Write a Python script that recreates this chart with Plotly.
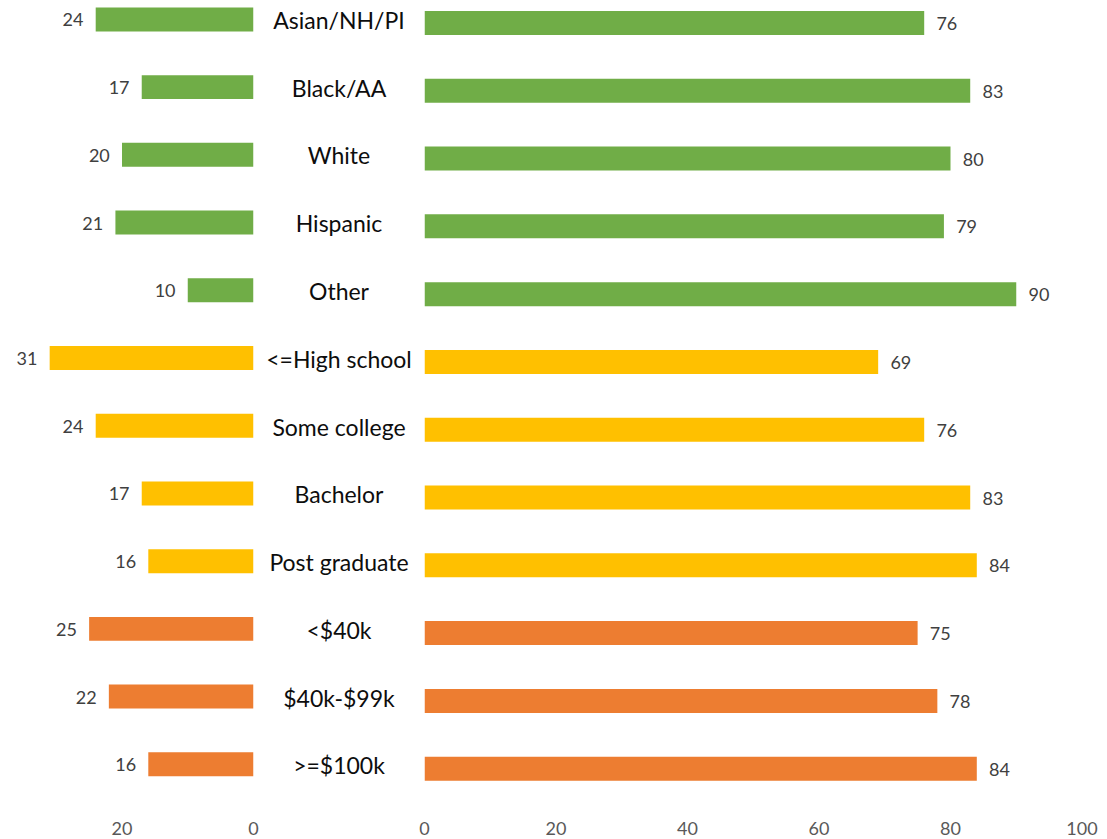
import plotly.graph_objects as go

# Survey breakdown: share answering each side, by demographic group
categories = [
    "Asian/NH/PI", "Black/AA", "White", "Hispanic", "Other",
    "<=High school", "Some college", "Bachelor", "Post graduate",
    "<$40k", "$40k-$99k", ">=$100k",
]
left_values = [24, 17, 20, 21, 10, 31, 24, 17, 16, 25, 22, 16]
right_values = [76, 83, 80, 79, 90, 69, 76, 83, 84, 75, 78, 84]
groups = ["race"] * 5 + ["education"] * 4 + ["income"] * 3

group_colors = {"race": "#70AD47", "education": "#FFC000", "income": "#ED7D31"}
bar_colors = [group_colors[g] for g in groups]

W, H = 1107, 839
FONT = "Lato, Open Sans, sans-serif"
VAL_COLOR = "#404040"
TICK_COLOR = "#595959"

fig = go.Figure()

fig.add_trace(go.Bar(
    y=categories, x=left_values, orientation="h",
    marker=dict(color=bar_colors, line=dict(width=0)),
    text=left_values, texttemplate="%{x}\u00a0\u00a0", textposition="outside",
    textfont=dict(family=FONT, size=18, color=VAL_COLOR),
    cliponaxis=False, xaxis="x", yaxis="y", showlegend=False,
))

fig.add_trace(go.Bar(
    y=categories, x=right_values, orientation="h",
    marker=dict(color=bar_colors, line=dict(width=0)),
    text=right_values, texttemplate="\u00a0\u00a0%{x}", textposition="outside",
    textfont=dict(family=FONT, size=18, color=VAL_COLOR),
    cliponaxis=False, xaxis="x2", yaxis="y2", showlegend=False,
))

# Category names in the gap between the two panels
fig.add_trace(go.Scatter(
    y=categories, x=[0] * len(categories), mode="text", text=categories,
    textposition="middle center",
    textfont=dict(family=FONT, size=23, color="#0D0D0D"),
    cliponaxis=False, xaxis="x3", yaxis="y2", showlegend=False, hoverinfo="skip",
))

plot_bottom = 814  # pixel row of the x axes

axis_common = dict(
    showgrid=False, zeroline=False, showline=False, ticks="",
    ticklabelstandoff=2,
    tickfont=dict(family=FONT, size=18, color=TICK_COLOR),
    fixedrange=True,
)

fig.update_layout(
    width=W, height=H,
    margin=dict(l=0, r=0, t=0, b=H - plot_bottom, autoexpand=False),
    paper_bgcolor="white", plot_bgcolor="white",
    bargap=0.646,
    xaxis=dict(domain=[0, 253.5 / W], range=[253.5 / 6.575, 0],
               tickvals=[0, 20, 40], anchor="y", **axis_common),
    yaxis=dict(domain=[0, 1], type="category", categoryarray=categories,
               range=[11.0 + (plot_bottom - 764.3) / 67.75, -19.4 / 67.75],
               visible=False, anchor="x"),
    xaxis2=dict(domain=[424.5 / W, (424.5 + 657.5) / W], range=[0, 100],
                tickvals=[0, 20, 40, 60, 80, 100], anchor="y2", **axis_common),
    yaxis2=dict(domain=[0, 1], type="category", categoryarray=categories,
                range=[11.0 + (plot_bottom - 768.7) / 67.79, -23.0 / 67.79],
                visible=False, anchor="x2"),
    xaxis3=dict(domain=[253.5 / W, 424.5 / W], range=[-1, 1], visible=False,
                anchor="y2", fixedrange=True),
)

fig.write_html("out.html")
